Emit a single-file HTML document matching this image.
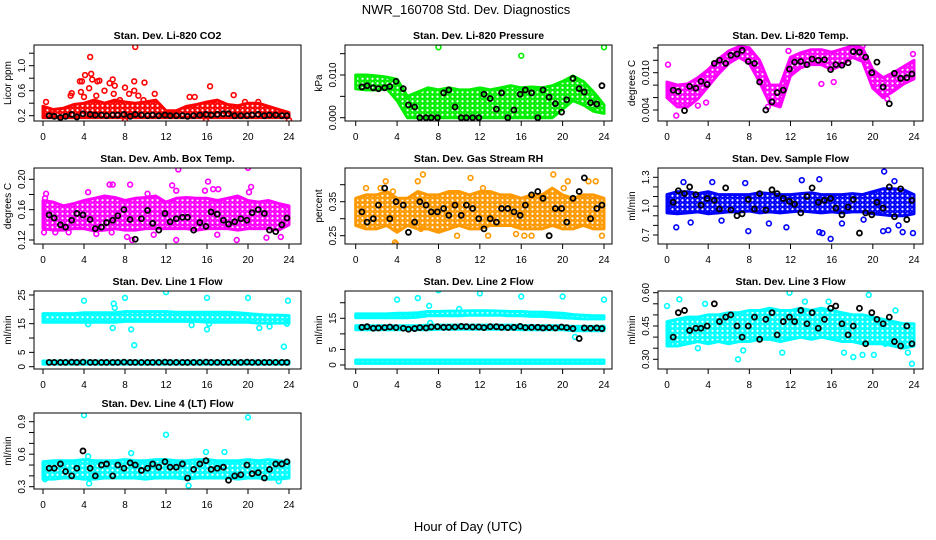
<!DOCTYPE html>
<html><head><meta charset="utf-8">
<style>
html,body{margin:0;padding:0;background:#fff;}
svg{display:block;font-family:"Liberation Sans",Arial,sans-serif;}
</style></head>
<body>
<svg id="chart" width="936" height="540" viewBox="0 0 936 540" xmlns="http://www.w3.org/2000/svg">
<text x="466" y="14" font-size="13" text-anchor="middle">NWR_160708  Std. Dev. Diagnostics</text>
<text x="468" y="531" font-size="13" text-anchor="middle">Hour of Day (UTC)</text>
</svg>
<script>
// shared hours for black series
const blackHours=[0.6,1.1,1.7,2.2,2.8,3.3,3.9,4.6,5.1,5.7,6.2,6.8,7.3,7.9,8.5,9.0,9.6,10.2,10.7,11.3,11.9,12.4,13.0,13.6,14.1,14.7,15.3,15.9,16.4,17.0,17.6,18.1,18.7,19.3,19.9,20.4,21.0,21.6,22.1,22.7,23.3,23.8];
const bandHours=[0,1,2,3,4,5,6,7,8,9,10,11,12,13,14,15,16,17,18,19,20,21,22,23,24];
const xTicks=[0,4,8,12,16,20,24];

// CO2
const co2Lo=[0.17,0.17,0.17,0.17,0.17,0.17,0.17,0.17,0.17,0.17,0.17,0.17,0.17,0.17,0.17,0.17,0.17,0.17,0.17,0.17,0.17,0.17,0.17,0.17,0.17];
const co2Hi=[0.35,0.3,0.32,0.38,0.4,0.45,0.4,0.45,0.42,0.4,0.42,0.45,0.28,0.28,0.35,0.38,0.42,0.45,0.38,0.36,0.4,0.4,0.35,0.3,0.25];
const co2OutX=[0.3,1.0,2.7,2.8,3.6,3.8,3.7,4.1,4.6,4.7,4.5,4.8,5.3,5.5,5.2,6.0,6.5,6.8,7.0,6.9,8.0,8.4,8.9,9.0,8.9,9.3,9.9,9.8,10.9,8.0,14.3,14.8,16.3,15.9,18.6,19.7,21.0,24,4,7.5,12];
const co2OutY=[0.42,0.2,0.52,0.56,0.75,0.75,0.58,0.85,1.14,0.87,0.64,0.78,0.75,0.76,0.52,0.6,0.72,0.78,0.68,0.55,0.65,0.55,0.75,1.3,0.6,0.52,0.73,0.45,0.55,0.12,0.5,0.5,0.67,0.12,0.53,0.42,0.42,0.13,0.5,0.45,0.22];
const co2Black=[0.2,0.19,0.17,0.19,0.22,0.18,0.23,0.22,0.21,0.21,0.2,0.21,0.21,0.22,0.19,0.22,0.21,0.2,0.21,0.2,0.21,0.2,0.2,0.2,0.19,0.2,0.21,0.22,0.21,0.22,0.23,0.23,0.2,0.2,0.2,0.21,0.22,0.2,0.21,0.21,0.2,0.2];

// Pressure
const presLo=[0.0068,0.0065,0.0065,0.0068,0.004,0,0,0,0,0,0,0,0,0,0,0,0,0,0,0,0.002,0.004,0.003,0.0015,0.001];
const presHi=[0.010,0.010,0.0098,0.0095,0.009,0.005,0.006,0.007,0.0065,0.007,0.0065,0.0065,0.007,0.0065,0.007,0.0075,0.007,0.0072,0.007,0.0075,0.0085,0.0098,0.0085,0.006,0.003];
const presOutX=[8,16,24];
const presOutY=[0.0165,0.0145,0.0165];
const presBlack=[0.0072,0.0075,0.007,0.0068,0.007,0.0073,0.0085,0.0068,0.003,0.0025,0,0,0,0,0.0058,0.0065,0.0025,0,0,0,0,0.0055,0.0045,0.002,0.0058,0,0.0018,0.0055,0.0065,0.0058,0,0.0065,0.0048,0.0033,0.0013,0.0042,0.0092,0.0068,0.006,0.0035,0.0032,0.0075];

// Li-820 temp
const tempLo=[0.006,0.0045,0.0045,0.0058,0.0078,0.0098,0.0115,0.0125,0.0115,0.0085,0.005,0.0045,0.0095,0.0108,0.0113,0.0113,0.0105,0.0112,0.0125,0.0118,0.0075,0.006,0.007,0.0082,0.009];
const tempHi=[0.0085,0.008,0.0082,0.0092,0.0105,0.0122,0.0135,0.0142,0.014,0.012,0.008,0.008,0.0125,0.0132,0.0137,0.0137,0.0133,0.0138,0.0143,0.014,0.0105,0.0092,0.01,0.011,0.012];
const tempOutX=[0.1,0.9,2.4,3.8,9.8,21.4,11.8,15.0,19.0,23.9,3,16.2];
const tempOutY=[0.0113,0.0031,0.0055,0.0052,0.0045,0.0058,0.0135,0.0082,0.0143,0.013,0.0047,0.0085];
const tempBlack=[0.0072,0.007,0.0039,0.0078,0.0075,0.0086,0.0081,0.0115,0.012,0.0115,0.0128,0.013,0.0136,0.0118,0.0115,0.0085,0.004,0.0053,0.0068,0.0072,0.0106,0.0117,0.0118,0.0113,0.0122,0.012,0.0121,0.0105,0.0113,0.0112,0.0116,0.0134,0.0133,0.0125,0.01,0.0117,0.0077,0.005,0.0099,0.0091,0.0092,0.0098];

// Amb box temp
const ambLo=[0.135,0.133,0.133,0.135,0.135,0.132,0.133,0.135,0.133,0.133,0.135,0.135,0.135,0.135,0.135,0.133,0.135,0.135,0.135,0.133,0.135,0.135,0.135,0.133,0.14];
const ambHi=[0.172,0.17,0.165,0.168,0.172,0.175,0.178,0.176,0.172,0.175,0.176,0.178,0.17,0.175,0.176,0.175,0.175,0.172,0.175,0.178,0.172,0.17,0.172,0.168,0.165];
const ambOutX=[0.1,0.2,0.3,4.4,6.5,6.8,8.5,8.2,13.2,12.6,13.0,16.1,15.8,16.6,20.0,20.3,20.1,18.9,13.0,8.7,10.8,21.8,17.0,1.2,2.5,6.7,5.2,23.2,17.1,10.2];
const ambOutY=[0.13,0.175,0.181,0.183,0.193,0.193,0.193,0.124,0.213,0.192,0.185,0.197,0.185,0.187,0.215,0.19,0.183,0.12,0.12,0.12,0.127,0.123,0.127,0.13,0.13,0.13,0.128,0.124,0.187,0.181];
const ambBlack=[0.153,0.149,0.14,0.137,0.146,0.155,0.153,0.147,0.135,0.137,0.143,0.146,0.152,0.16,0.147,0.121,0.148,0.159,0.142,0.133,0.155,0.144,0.148,0.15,0.15,0.133,0.143,0.138,0.157,0.154,0.146,0.141,0.144,0.148,0.146,0.156,0.16,0.155,0.133,0.131,0.14,0.149];

// Gas stream RH
const rhLo=[0.28,0.27,0.27,0.28,0.26,0.28,0.27,0.27,0.26,0.27,0.28,0.27,0.27,0.28,0.28,0.28,0.27,0.27,0.27,0.28,0.27,0.27,0.28,0.27,0.27];
const rhHi=[0.36,0.37,0.37,0.38,0.36,0.36,0.38,0.37,0.37,0.38,0.38,0.37,0.38,0.38,0.37,0.37,0.36,0.37,0.37,0.39,0.37,0.36,0.37,0.37,0.36];
const rhOutX=[2.4,2.9,3.6,3.8,6.0,6.5,3.9,11.1,12.3,19.1,20.1,20.5,22.5,23.2,23.8,17.0,12.8,9.8,6.3,15.5,1.0,16.3,18.5];
const rhOutY=[0.39,0.41,0.38,0.23,0.41,0.43,0.225,0.42,0.39,0.43,0.39,0.41,0.41,0.41,0.25,0.25,0.25,0.25,0.27,0.255,0.39,0.25,0.37];
const rhBlack=[0.32,0.29,0.3,0.34,0.39,0.3,0.35,0.34,0.26,0.29,0.35,0.34,0.32,0.32,0.33,0.31,0.34,0.31,0.34,0.33,0.3,0.27,0.3,0.29,0.33,0.33,0.32,0.31,0.34,0.37,0.38,0.36,0.25,0.33,0.33,0.29,0.36,0.38,0.42,0.3,0.33,0.34];

// Sample flow
const sfLo=[0.93,0.92,0.93,0.94,0.92,0.93,0.94,0.94,0.95,0.93,0.94,0.93,0.94,0.95,0.94,0.93,0.94,0.93,0.94,0.94,0.92,0.91,0.9,0.9,0.92];
const sfHi=[1.12,1.15,1.15,1.13,1.15,1.12,1.12,1.12,1.12,1.14,1.13,1.12,1.12,1.13,1.14,1.12,1.12,1.12,1.13,1.12,1.15,1.18,1.18,1.17,1.12];
const sfOutX=[0.9,2.3,7.9,11.6,14.8,15.1,15.9,21.1,21.0,21.5,22.9,23.9,13.1,14.8,1.6,4.4,7.6,22.1,22.5,17.0,9.9,5.3,19.1];
const sfOutY=[0.78,0.83,0.74,0.78,0.73,0.72,0.66,1.36,0.74,0.75,0.73,0.72,1.27,1.28,1.25,1.25,1.24,1.26,0.8,0.82,0.82,0.85,0.86];
const sfBlack=[1.04,1.16,1.13,1.2,1.12,1.01,1.08,1.06,0.97,1.19,0.96,0.9,0.92,1.07,0.97,1.13,0.96,1.17,1.13,1.08,1.05,1.02,0.93,1.1,1.19,1.04,1.06,1.08,0.98,0.91,0.99,1.07,0.72,0.93,0.91,1.04,0.98,1.2,0.89,1.18,0.86,1.06];

// Line 1 flow
const l1LoA=[15.5,15.5,15.5,15.5,15.5,15.5,15.5,15.5,15.8,15.8,15.8,15.8,15.8,15.8,15.8,15.8,15.5,15.5,15.5,15.5,15.5,15.2,15.2,15.2,15.2];
const l1HiA=[18.5,18.5,18.5,18.5,18.8,18.8,18.8,18.8,19.2,19.2,19.2,19.2,19.2,19.0,19.0,19.0,19.0,19.0,19.0,18.8,18.5,18.2,18.0,18.0,17.8];
const l1LoB=[0.9,0.9,0.9,0.9,0.9,0.9,0.9,0.9,0.9,0.9,0.9,0.9,0.9,0.9,0.9,0.9,0.9,0.9,0.9,0.9,0.9,0.9,0.9,0.9,0.9];
const l1HiB=[2.0,2.0,2.0,2.0,2.0,2.0,2.0,2.0,2.0,2.0,2.0,2.0,2.0,2.0,2.0,2.0,2.0,2.0,2.0,2.0,2.0,2.0,2.0,2.0,2.0];
const l1OutX=[4,6.9,7,8,12,16,20,23.9,6.8,8.6,8.9,16.0,16.2,21.1,22.1,23.5,23.8,14.5,4.4];
const l1OutY=[23,22,20.5,24,26,24,24,23,13.5,13,7.5,13,15,13.5,14,7,15,14.5,14.8];
const l1Black=[1.5,1.5,1.5,1.5,1.6,1.5,1.6,1.5,1.5,1.5,1.5,1.5,1.5,1.6,1.5,1.5,1.5,1.5,1.5,1.5,1.6,1.5,1.5,1.5,1.5,1.5,1.5,1.6,1.5,1.5,1.5,1.5,1.5,1.5,1.6,1.5,1.5,1.5,1.5,1.5,1.5,1.5];

// Line 2 flow
const l2LoA=[15.2,15.2,15.2,15.2,15.2,15.2,15.4,15.8,15.8,15.8,15.8,16.0,16.0,16.0,16.0,15.8,15.8,15.6,15.6,15.4,15.2,15.0,14.8,14.8,14.8];
const l2HiA=[16.4,16.4,16.4,16.4,16.6,16.6,16.8,17.2,17.2,17.3,17.3,17.4,17.4,17.4,17.3,17.2,17.2,17.0,17.0,16.8,16.6,16.2,16.0,15.8,15.8];
const l2LoB=[11.3,11.3,11.3,11.3,11.3,11.3,11.3,11.3,11.5,11.5,11.5,11.5,11.5,11.5,11.5,11.5,11.3,11.3,11.3,11.3,11.3,11.0,11.0,11.0,11.0];
const l2HiB=[12.6,12.6,12.6,12.6,12.6,12.6,12.6,12.8,12.8,12.8,12.8,12.8,12.8,12.8,12.8,12.8,12.7,12.6,12.6,12.6,12.6,12.4,12.4,12.4,12.4];
const l2LoC=[0.5,0.5,0.5,0.5,0.5,0.5,0.5,0.5,0.5,0.5,0.5,0.5,0.5,0.5,0.5,0.5,0.5,0.5,0.5,0.5,0.5,0.5,0.5,0.5,0.5];
const l2HiC=[1.6,1.6,1.6,1.6,1.6,1.6,1.6,1.6,1.6,1.6,1.6,1.6,1.6,1.6,1.6,1.6,1.6,1.6,1.6,1.6,1.6,1.6,1.6,1.6,1.6];
const l2OutX=[4,6,8,12,16,20,24,7.1,10,7.2,21.2,23.9];
const l2OutY=[21,21.5,24,23,22,22,21,19,18,13.5,9,12];
const l2Black=[12.1,12.3,11.8,11.9,12.0,12.2,12.0,11.8,11.5,11.7,12.0,11.9,12.2,12.3,12.1,12.1,12.2,12.4,12.3,12.2,12.2,12.0,12.3,12.3,12.1,12.0,12.1,12.4,12.0,12.1,12.1,11.9,12.0,11.9,12.2,12.0,11.7,8.5,11.9,11.8,11.9,11.7];

// Line 3 flow
const l3Lo=[0.36,0.36,0.37,0.38,0.37,0.38,0.37,0.38,0.38,0.39,0.39,0.38,0.39,0.4,0.39,0.4,0.39,0.38,0.38,0.37,0.37,0.37,0.36,0.35,0.36];
const l3Hi=[0.47,0.48,0.49,0.49,0.5,0.5,0.51,0.51,0.52,0.52,0.53,0.52,0.52,0.53,0.52,0.53,0.52,0.51,0.5,0.5,0.49,0.48,0.47,0.46,0.46];
const l3OutX=[1.2,0,3.7,6.9,7.4,11.9,19.6,13.4,15.7,18.1,19.0,20.1,23.8,23.4,22.2,11.2,17.2,21.2,3.0,0.2];
const l3OutY=[0.57,0.54,0.55,0.3,0.34,0.6,0.59,0.56,0.56,0.31,0.32,0.32,0.28,0.33,0.52,0.33,0.33,0.37,0.35,0.37];
const l3Black=[0.4,0.51,0.52,0.43,0.44,0.44,0.45,0.55,0.47,0.49,0.5,0.45,0.4,0.45,0.49,0.39,0.48,0.51,0.41,0.47,0.49,0.47,0.52,0.46,0.51,0.44,0.48,0.53,0.54,0.46,0.41,0.45,0.53,0.37,0.51,0.48,0.46,0.49,0.38,0.36,0.45,0.37];

// Line 4 flow
const l4Lo=[0.37,0.37,0.38,0.38,0.37,0.37,0.38,0.38,0.38,0.38,0.37,0.38,0.38,0.38,0.37,0.38,0.38,0.38,0.38,0.37,0.38,0.38,0.37,0.37,0.38];
const l4Hi=[0.53,0.54,0.54,0.54,0.55,0.54,0.54,0.54,0.55,0.54,0.54,0.55,0.55,0.54,0.54,0.55,0.55,0.54,0.54,0.54,0.55,0.54,0.55,0.54,0.53];
const l4OutX=[4,12,20,8.6,15.9,17.7,14.2,4.5,0.2,23,4.4];
const l4OutY=[0.96,0.78,0.94,0.61,0.62,0.62,0.31,0.33,0.37,0.35,0.58];
const l4Black=[0.47,0.47,0.51,0.44,0.4,0.47,0.63,0.47,0.4,0.5,0.51,0.4,0.5,0.47,0.52,0.5,0.45,0.47,0.51,0.48,0.53,0.48,0.48,0.51,0.38,0.46,0.51,0.54,0.46,0.47,0.48,0.36,0.4,0.41,0.5,0.42,0.43,0.38,0.46,0.51,0.51,0.53];

const NS="http://www.w3.org/2000/svg";
const svg=document.getElementById('chart');
function mk(tag,attrs,parent){const e=document.createElementNS(NS,tag);for(const k in attrs)e.setAttribute(k,attrs[k]);(parent||svg).appendChild(e);return e;}

const cols=[{l:34,r:301,x0:43,x24:289},{l:345,r:612,x0:355.7,x24:604},{l:658,r:923,x0:667,x24:914}];
const rows=[{t:45,b:121},{t:168,b:244},{t:291,b:369},{t:413,b:489}];

const defs=mk('defs',{});
const colorsUsed={red:'#ff0000',green:'#00ee00',magenta:'#ff00ff',orange:'#ff9900',blue:'#0000ff',cyan:'#00ffff'};
for(const k in colorsUsed){
  const p=mk('pattern',{id:'pat-'+k,patternUnits:'userSpaceOnUse',width:5,height:4.5},defs);
  mk('rect',{x:0,y:0,width:5,height:4.5,fill:colorsUsed[k]},p);
  mk('circle',{cx:2.5,cy:2.25,r:1.1,fill:'#fff'},p);
  mk('circle',{cx:0,cy:0,r:0.6,fill:'#fff'},p);
}

const panels=[
 {name:'co2',title:'Stan. Dev. Li-820 CO2',ylab:'Licor ppm',c:0,r:0,v1:0.2,p1:115.7,v2:1.0,p2:65.7,ticks:[0.2,0.4,0.6,0.8,1.0,1.2],labels:['0.2','','0.6','','1.0',''],color:'red',bands:[[co2Lo,co2Hi]],ox:co2OutX,oy:co2OutY,black:co2Black},
 {name:'pressure',title:'Stan. Dev. Li-820 Pressure',ylab:'kPa',c:1,r:0,v1:0,p1:117.7,v2:0.01,p2:75,ticks:[0,0.005,0.01,0.015],labels:['0.000','','0.010',''],color:'green',bands:[[presLo,presHi]],ox:presOutX,oy:presOutY,black:presBlack},
 {name:'li820-temp',title:'Stan. Dev. Li-820 Temp.',ylab:'degrees C',c:2,r:0,v1:0.004,p1:110,v2:0.010,p2:72.7,ticks:[0.004,0.006,0.008,0.010,0.012,0.014],labels:['0.004','','','0.010','',''],color:'magenta',bands:[[tempLo,tempHi]],ox:tempOutX,oy:tempOutY,black:tempBlack},
 {name:'amb-box-temp',title:'Stan. Dev. Amb. Box Temp.',ylab:'degrees C',c:0,r:1,v1:0.12,p1:240,v2:0.20,p2:179.3,ticks:[0.12,0.14,0.16,0.18,0.20],labels:['0.12','','0.16','','0.20'],color:'magenta',bands:[[ambLo,ambHi]],ox:ambOutX,oy:ambOutY,black:ambBlack},
 {name:'gas-stream-rh',title:'Stan. Dev. Gas Stream RH',ylab:'percent',c:1,r:1,v1:0.25,p1:235.7,v2:0.35,p2:201.7,ticks:[0.25,0.30,0.35,0.40],labels:['0.25','','0.35',''],color:'orange',bands:[[rhLo,rhHi]],ox:rhOutX,oy:rhOutY,black:rhBlack},
 {name:'sample-flow',title:'Stan. Dev. Sample Flow',ylab:'ml/min',c:2,r:1,v1:0.7,p1:235,v2:1.3,p2:177.3,ticks:[0.7,0.8,0.9,1.0,1.1,1.2,1.3],labels:['0.7','','','1.0','','','1.3'],color:'blue',bands:[[sfLo,sfHi]],ox:sfOutX,oy:sfOutY,black:sfBlack},
 {name:'line1-flow',title:'Stan. Dev. Line 1 Flow',ylab:'ml/min',c:0,r:2,v1:0,p1:366.7,v2:25,p2:295,ticks:[0,5,10,15,20,25],labels:['0','5','','15','','25'],color:'cyan',bands:[[l1LoA,l1HiA],[l1LoB,l1HiB]],ox:l1OutX,oy:l1OutY,black:l1Black},
 {name:'line2-flow',title:'Stan. Dev. Line 2 Flow',ylab:'ml/min',c:1,r:2,v1:0,p1:365,v2:15,p2:318.3,ticks:[0,5,10,15,20],labels:['0','5','','15',''],color:'cyan',bands:[[l2LoA,l2HiA],[l2LoB,l2HiB],[l2LoC,l2HiC]],ox:l2OutX,oy:l2OutY,black:l2Black},
 {name:'line3-flow',title:'Stan. Dev. Line 3 Flow',ylab:'ml/min',c:2,r:2,v1:0.30,p1:359.3,v2:0.60,p2:292.7,ticks:[0.30,0.35,0.40,0.45,0.50,0.55,0.60],labels:['0.30','','','0.45','','','0.60'],color:'cyan',bands:[[l3Lo,l3Hi]],ox:l3OutX,oy:l3OutY,black:l3Black},
 {name:'line4-flow',title:'Stan. Dev. Line 4 (LT) Flow',ylab:'ml/min',c:0,r:3,v1:0.3,p1:486.7,v2:0.9,p2:421.7,ticks:[0.3,0.4,0.5,0.6,0.7,0.8,0.9],labels:['0.3','','','0.6','','','0.9'],color:'cyan',bands:[[l4Lo,l4Hi]],ox:l4OutX,oy:l4OutY,black:l4Black}
];

panels.forEach((P,i)=>{
  const C=cols[P.c],R=rows[P.r];
  const xs=h=>C.x0+(C.x24-C.x0)*h/24;
  const ys=v=>P.p1+(P.p2-P.p1)*(v-P.v1)/(P.v2-P.v1);
  const g=mk('g',{});
  
  
  const cp=mk('clipPath',{id:'clip'+i},defs);
  mk('rect',{x:C.l,y:R.t,width:C.r-C.l,height:R.b-R.t},cp);
  const t=mk('text',{x:(C.l+C.r)/2,y:R.t-6,'font-size':10.5,'font-weight':'bold','text-anchor':'middle'},g);
  t.textContent=P.title;
  
  
  const pl=mk('g',{'clip-path':'url(#clip'+i+')'},g);
  const col=colorsUsed[P.color];
  P.bands.forEach(b=>{
    let d='';
    bandHours.forEach((h,k)=>{d+=(k?'L':'M')+xs(h).toFixed(1)+' '+ys(b[1][k]).toFixed(1);});
    for(let k=bandHours.length-1;k>=0;k--){d+='L'+xs(bandHours[k]).toFixed(1)+' '+ys(b[0][k]).toFixed(1);}
    const pa=mk('path',{d:d+'Z',fill:'url(#pat-'+P.color+')',stroke:col,'stroke-width':3,'stroke-linejoin':'round'},pl);
    
    
  });
  P.ox.forEach((h,k)=>{
    const c=mk('circle',{cx:xs(h),cy:ys(P.oy[k]),r:2.4,fill:'none',stroke:col,'stroke-width':1.6},pl);
    
    
  });
  blackHours.forEach((h,k)=>{
    const c=mk('circle',{cx:xs(h),cy:ys(P.black[k]),r:2.5,fill:'none',stroke:'#000','stroke-width':1.8},pl);
    
    
  });
  mk('rect',{x:C.l,y:R.t,width:C.r-C.l,height:R.b-R.t,fill:'none',stroke:'#000','stroke-width':1},g);
  xTicks.forEach(h=>{
    mk('line',{x1:xs(h),x2:xs(h),y1:R.b,y2:R.b+5,stroke:'#000'},g);
    const tl=mk('text',{x:xs(h),y:R.b+19,'font-size':10,'text-anchor':'middle'},g);
    tl.textContent=h;
    
    
  });
  P.ticks.forEach((v,k)=>{
    const y=ys(v);
    mk('line',{x1:C.l-5,x2:C.l,y1:y,y2:y,stroke:'#000'},g);
    if(P.labels[k]){
      const tl=mk('text',{x:0,y:0,'font-size':10,'text-anchor':'middle',transform:'translate('+(C.l-9)+','+y+') rotate(-90)'},g);
      tl.textContent=P.labels[k];
      
      
    }
  });
  const yl=mk('text',{x:0,y:0,'font-size':10,'text-anchor':'middle',transform:'translate('+(C.l-23)+','+((R.t+R.b)/2)+') rotate(-90)'},g);
  yl.textContent=P.ylab;
  
  
});
</script>
</body></html>
